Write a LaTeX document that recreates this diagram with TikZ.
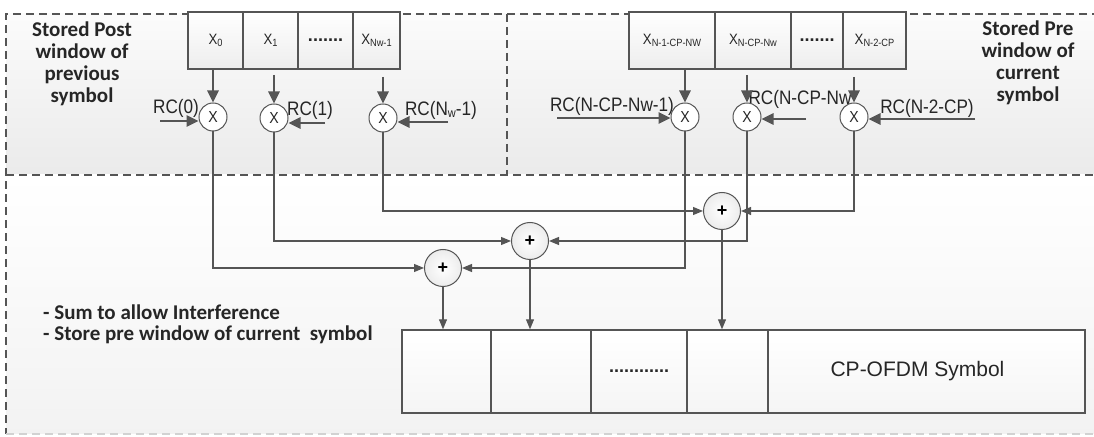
\documentclass[tikz,border=0pt]{standalone}
\usepackage{fontspec}
\setmainfont{Liberation Sans}
\newfontfamily\narrowfont[FakeStretch=0.88]{Liberation Sans}
\newfontfamily\notefont{Carlito}
\usetikzlibrary{arrows.meta}
\definecolor{linegray}{HTML}{555555}
\definecolor{textgray}{HTML}{262626}
\newcommand{\xsub}[1]{X\raisebox{-1.5bp}{\fontsize{10.5bp}{11bp}\selectfont #1}}
\newcommand{\lowsub}[1]{\raisebox{-2bp}{\fontsize{12.5bp}{12.5bp}\selectfont #1}}
\newcommand{\celldots}[1]{{\normalfont\bfseries\fontsize{18bp}{18bp}\selectfont #1}}
\tikzset{
  region/.style={draw=linegray, line width=2.8bp, dash pattern=on 8bp off 5bp},
  cell/.style={draw=linegray, line width=1.1bp, top color=white, bottom color=gray!14, inner sep=0pt, minimum height=57bp, font=\narrowfont\fontsize{15bp}{15bp}\selectfont, text=textgray},
  outcell/.style={draw=linegray, line width=1.4bp, top color=white, bottom color=gray!8, inner sep=0pt, minimum height=83bp, font=\fontsize{21bp}{21bp}\selectfont, text=textgray},
  mult/.style={circle, draw=linegray, line width=1bp, fill=white, minimum size=28bp, inner sep=0pt, font=\narrowfont\fontsize{16bp}{16bp}\selectfont, text=textgray},
  adder/.style={circle, draw=linegray, line width=1bp, inner color=white, outer color=gray!15, minimum size=37bp, inner sep=0pt, font=\bfseries\fontsize{18bp}{18bp}\selectfont},
  rclabel/.style={font=\narrowfont\fontsize{19.5bp}{19.5bp}\selectfont, text=textgray, inner sep=0pt},
  notelabel/.style={font=\notefont\bfseries\fontsize{21bp}{22bp}\selectfont, text=textgray, inner sep=0pt},
  feed/.style={color=linegray, line width=2.6bp, -{Triangle[length=12bp,width=11bp]}},
  wire/.style={color=linegray, line width=1.1bp, -{Triangle[length=10bp,width=8bp]}}
}
\begin{document}
\begin{tikzpicture}[x=1bp, y=-1bp]
\useasboundingbox (0,0) rectangle (1094,437);
% background regions
\shade[top color=gray!3, bottom color=gray!16] (6,14) rectangle (1100,175);
\shade[top color=white, bottom color=gray!10] (6,175) rectangle (1100,434);
\draw[region] (1100,14) -- (6,14) -- (6,434);
\draw[region, draw=gray!35, line width=1.5bp] (6,434) -- (1100,434);
\draw[region] (6,175) -- (1100,175);
\draw[region] (507,14) -- (507,175);
% notes
\node[notelabel, align=center] (post) at (82,63.5) {Stored Post\\window of\\previous\\symbol};
\node[notelabel, align=center] (pre) at (1028,63) {Stored Pre\\window of\\current\\symbol};
\node[notelabel, align=left, anchor=west, font=\notefont\bfseries\fontsize{21bp}{21bp}\selectfont] (sum) at (43,324.5) {- Sum to allow Interference\\- Store pre window of current\ \ symbol};
% RC labels
\node[rclabel] (lrc0) at (176,108) {RC(0)};
\node[rclabel] (lrc1) at (310,110) {RC(1)};
\node[rclabel] (lrc2) at (441,110) {RC(N\lowsub{w}-1)};
\node[rclabel] (lrc3) at (612,106) {RC(N-CP-Nw-1)};
\node[rclabel] (lrc4) at (800,99) {RC(N-CP-Nw};
\node[rclabel] (lrc5) at (927,108) {RC(N-2-CP)};
% post window cells
\node[cell, minimum width=55bp] (x0) at (215.5,40.5) {\xsub{0}};
\node[cell, minimum width=55bp] (x1) at (270.5,40.5) {\xsub{1}};
\node[cell, minimum width=55bp] (xd) at (325.5,40.5) {\celldots{.......}};
\node[cell, minimum width=47bp] (xn) at (376.5,40.5) {\xsub{Nw-1}};
% pre window cells
\node[cell, minimum width=86bp] (y0) at (672,40.5) {\xsub{N-1-CP-NW}};
\node[cell, minimum width=76bp] (y1) at (753,40.5) {\xsub{N-CP-Nw}};
\node[cell, minimum width=52bp] (yd) at (817,40.5) {\celldots{.......}};
\node[cell, minimum width=63bp] (yn) at (874.5,40.5) {\xsub{N-2-CP}};
% multipliers
\node[mult] (m1) at (213,117) {X};
\node[mult] (m2) at (274,118) {X};
\node[mult] (m3) at (383,118) {X};
\node[mult] (m4) at (685,117) {X};
\node[mult] (m5) at (747,117) {X};
\node[mult] (m6) at (854,117) {X};
% adders
\node[adder] (p1) at (443,268) {+};
\node[adder] (p2) at (530,241) {+};
\node[adder] (p3) at (722,211) {+};
% output symbol
\node[outcell, minimum width=89bp] (c1) at (446.5,371.5) {};
\node[outcell, minimum width=100bp] (c2) at (541,371.5) {};
\node[outcell, minimum width=96bp] (c3) at (639,371.5) {\celldots{............}};
\node[outcell, minimum width=81bp] (c4) at (727.5,371.5) {};
\node[outcell, minimum width=317bp] (c5) at (926.5,371.5) {CP-OFDM Symbol\hspace*{18bp}};
% RC inputs
\coordinate (r0) at (160,121);
\coordinate (r1) at (325,123);
\coordinate (r2) at (448,122);
\coordinate (r3) at (557,118);
\coordinate (r4) at (806,119);
\coordinate (r5) at (975,119);
\path[feed]
    (x0.south -| m1) edge (m1)
    (m2 |- 0,75) edge (m2)
    (m3 |- 0,77) edge (m3)
    (y0.south -| m4) edge (m4)
    (m5 |- 0,75) edge (m5)
    (m6 |- 0,77) edge (m6)
    (r0) edge (r0 -| m1.west)
    (r1) edge (r1 -| m2.east)
    (r2) edge (r2 -| m3.east)
    (r3) edge (r3 -| m4.west)
    (r4) edge (r4 -| m5.east)
    (r5) edge (r5 -| m6.east);
% sums
\draw[wire] (m1) |- (p1);
\draw[wire] (m2) |- (p2);
\draw[wire] (m3) |- (p3);
\draw[wire] (m4) |- (p1);
\draw[wire] (m5) |- (p2);
\draw[wire] (m6) |- (p3);
\path[wire]
    (p1) edge (p1 |- c1.north)
    (p2) edge (p2 |- c2.north)
    (p3) edge (p3 |- c4.north);
\end{tikzpicture}
\end{document}
